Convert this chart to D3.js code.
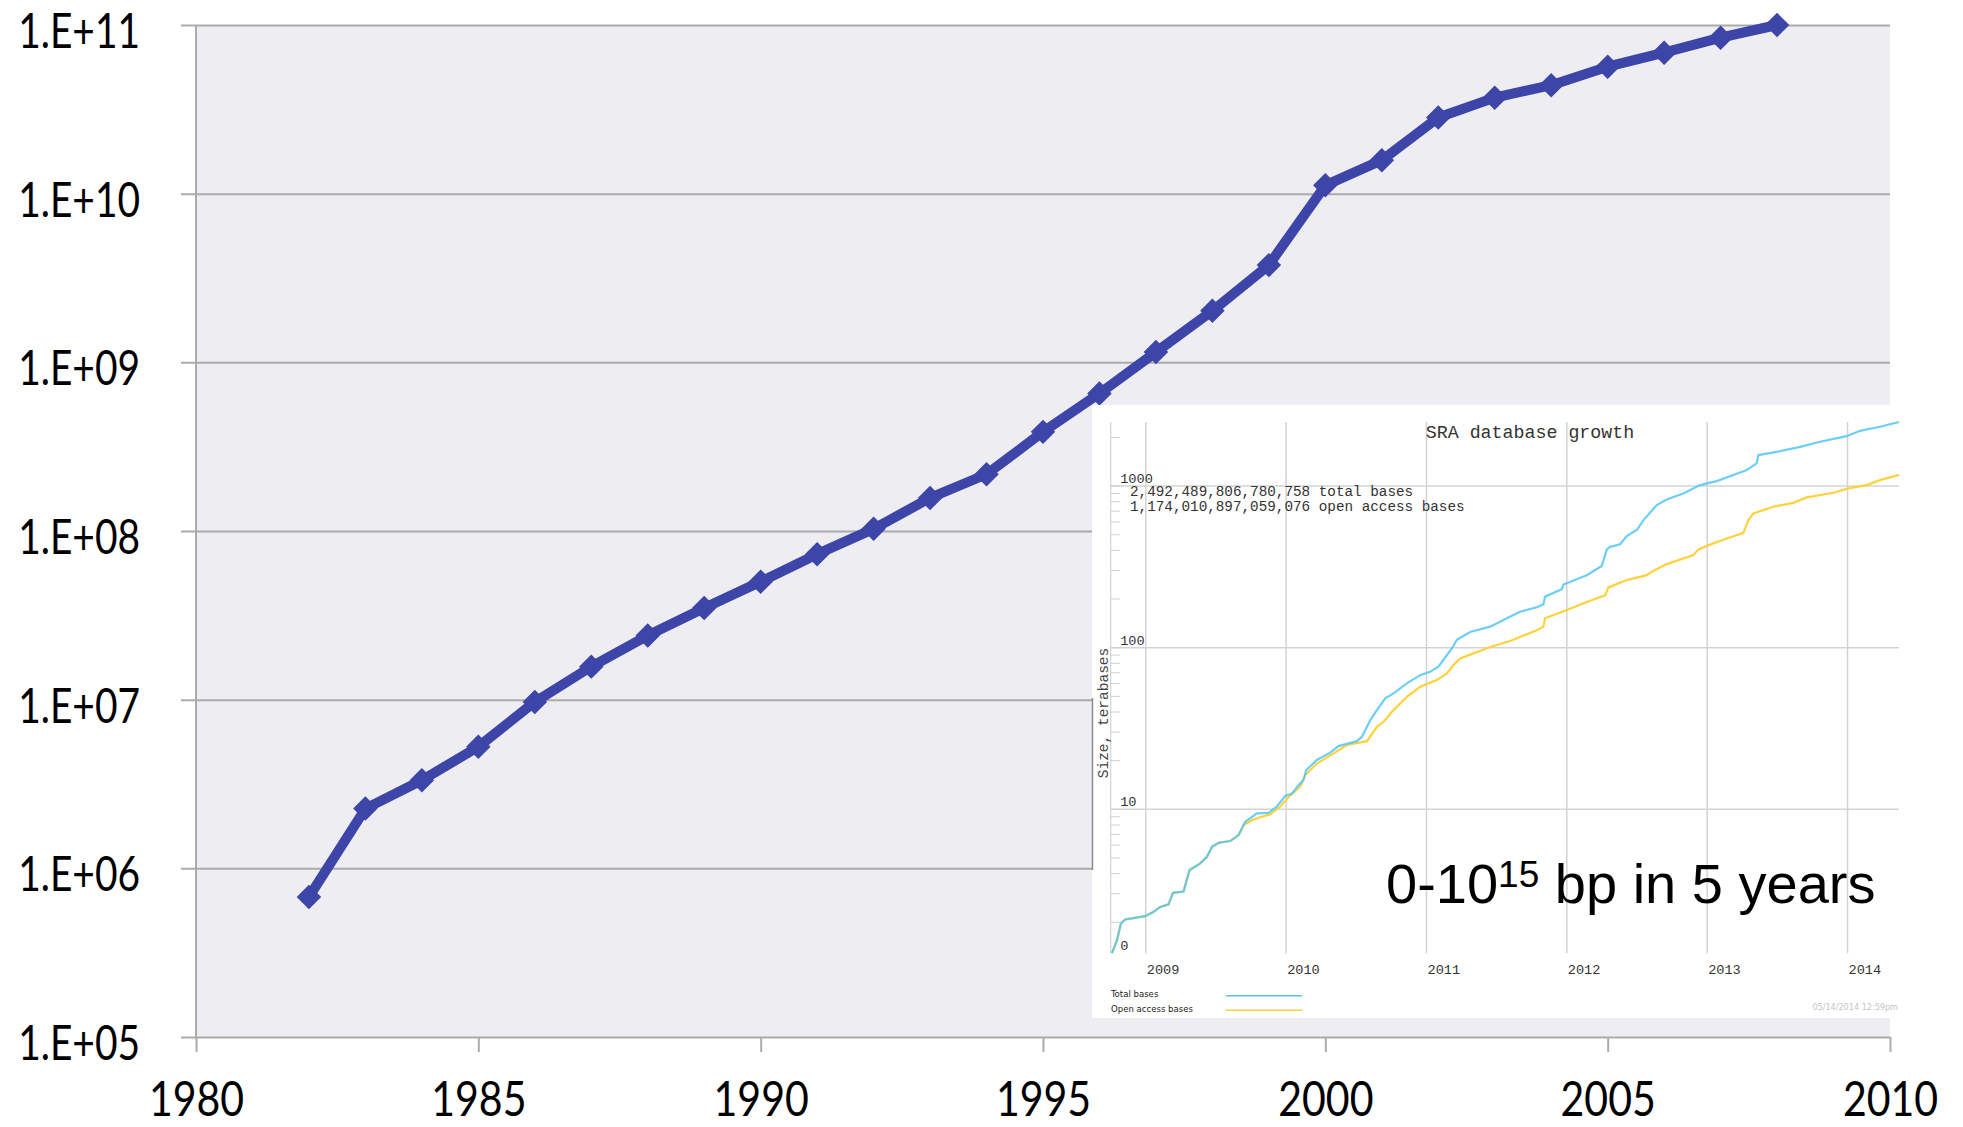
<!DOCTYPE html>
<html>
<head>
<meta charset="utf-8">
<script src="https://cdn.jsdelivr.net/npm/d3@7"></script>
<style>
  html, body { margin: 0; padding: 0; background: #ffffff; }
  svg { display: block; }
</style>
</head>
<body>
<svg id="chart" width="1963" height="1127"></svg>
<script>
// Main series: cumulative sequence size per year (log scale)
const mainYears = [1982, 1983, 1984, 1985, 1986, 1987, 1988, 1989, 1990, 1991, 1992, 1993, 1994,
  1995, 1996, 1997, 1998, 1999, 2000, 2001, 2002, 2003, 2004, 2005, 2006, 2007, 2008];
const mainValues = [6.76e5, 2.26e6, 3.33e6, 5.26e6, 9.7e6, 1.57e7, 2.40e7, 3.50e7, 5.01e7, 7.29e7,
  1.03e8, 1.57e8, 2.17e8, 3.87e8, 6.54e8, 1.15e9, 2.02e9, 3.77e9, 1.12e10, 1.58e10,
  2.83e10, 3.71e10, 4.40e10, 5.66e10, 6.85e10, 8.41e10, 1.00e11];

const yTickValues = [1e5, 1e6, 1e7, 1e8, 1e9, 1e10, 1e11];
const yTickLabels = ["1.E+05", "1.E+06", "1.E+07", "1.E+08", "1.E+09", "1.E+10", "1.E+11"];
const xTickValues = [1980, 1985, 1990, 1995, 2000, 2005, 2010];

// SRA database growth (terabases), dates as decimal years
const sraTotalDates = [2008.759, 2008.795, 2008.823, 2008.854, 2008.996, 2009.056, 2009.103, 2009.162,
  2009.194, 2009.269, 2009.312, 2009.388, 2009.436, 2009.472, 2009.519, 2009.602, 2009.661, 2009.709,
  2009.792, 2009.875, 2009.934, 2009.994, 2010.041, 2010.088, 2010.124, 2010.143, 2010.219, 2010.314,
  2010.373, 2010.504, 2010.540, 2010.599, 2010.647, 2010.706, 2010.765, 2010.860, 2010.955, 2011.026,
  2011.085, 2011.181, 2011.217, 2011.311, 2011.454, 2011.573, 2011.667, 2011.786, 2011.833, 2011.845,
  2011.964, 2011.976, 2012.142, 2012.249, 2012.285, 2012.309, 2012.380, 2012.427, 2012.499, 2012.546,
  2012.641, 2012.712, 2012.830, 2012.949, 2013.068, 2013.187, 2013.282, 2013.353, 2013.365, 2013.496,
  2013.662, 2013.804, 2013.994, 2014.089, 2014.231, 2014.367];
const sraTotalTB = [1.29, 1.55, 1.97, 2.08, 2.18, 2.32, 2.49, 2.58,
  3.04, 3.10, 4.21, 4.63, 5.08, 5.86, 6.21, 6.36, 6.92, 8.37,
  9.43, 9.51, 10.4, 12.1, 12.5, 14.1, 15.2, 17.5, 20.2, 22.4,
  24.6, 26.4, 28.1, 35.6, 41.1, 48.6, 52.1, 60.1, 67.6, 70.9,
  76.2, 99.1, 112, 125, 135, 152, 167, 178, 185, 207,
  230, 246, 281, 320, 406, 421, 437, 491, 535, 616,
  763, 827, 901, 1014, 1074, 1170, 1256, 1381, 1556, 1630,
  1750, 1880, 2037, 2198, 2328, 2492.49];

const sraOpenDates = [2008.759, 2008.795, 2008.823, 2008.854, 2008.996, 2009.056, 2009.103, 2009.162,
  2009.194, 2009.269, 2009.312, 2009.388, 2009.436, 2009.472, 2009.519, 2009.602, 2009.661, 2009.697,
  2009.768, 2009.887, 2009.958, 2010.029, 2010.100, 2010.136, 2010.219, 2010.338, 2010.433, 2010.576,
  2010.647, 2010.694, 2010.765, 2010.860, 2010.955, 2011.074, 2011.145, 2011.204, 2011.240, 2011.335,
  2011.454, 2011.596, 2011.786, 2011.833, 2011.845, 2012.000, 2012.142, 2012.273, 2012.296, 2012.427,
  2012.570, 2012.605, 2012.712, 2012.902, 2012.937, 2013.044, 2013.140, 2013.258, 2013.294, 2013.329,
  2013.472, 2013.614, 2013.709, 2013.899, 2014.006, 2014.137, 2014.231, 2014.367];
const sraOpenTB = [1.29, 1.55, 1.97, 2.08, 2.18, 2.32, 2.49, 2.58,
  3.04, 3.10, 4.21, 4.63, 5.08, 5.86, 6.21, 6.36, 6.92, 7.98,
  8.65, 9.33, 10.4, 12.2, 13.8, 16.3, 19.2, 22.2, 25.0, 26.4,
  32.4, 34.8, 41.1, 49.7, 57.3, 63.0, 69.3, 80.0, 85.9, 92.2,
  101, 110, 128, 135, 152, 171, 192, 211, 236, 262,
  281, 295, 329, 374, 406, 442, 474, 514, 616, 678,
  745, 788, 851, 910, 968, 1014, 1089, 1174.01];

const sraYearTicks = [2009, 2010, 2011, 2012, 2013, 2014];
const sraGridValues = [10, 100, 1000];
const sraLabelValues = [1.285, 10, 100, 1000];
const sraLabelTexts = ["0", "10", "100", "1000"];
const sraStats = ["2,492,489,806,780,758 total bases", "1,174,010,897,059,076 open access bases"];
const sraLegend = ["Total bases", "Open access bases"];

const svg = d3.select("#chart");

// ---------- main chart ----------
const plot = { left: 196, right: 1890, top: 25, bottom: 1037 };
const x = d3.scaleLinear().domain([1980, 2010]).range([plot.left, plot.right]);
const y = d3.scaleLog().domain([1e5, 1e11]).range([plot.bottom, plot.top]);

const gridColor = "#ababab";
const labelFont = "Lato, 'Open Sans', sans-serif";

svg.append("rect")
  .attr("x", plot.left).attr("y", plot.top)
  .attr("width", plot.right - plot.left).attr("height", plot.bottom - plot.top)
  .attr("fill", "#ededf2");

// horizontal gridlines with left tick stubs and labels
const yAxis = d3.axisLeft(y)
  .tickValues(yTickValues)
  .tickSize(-(plot.right - plot.left) - 15)
  .tickFormat((d, i) => yTickLabels[i]);

const gy = svg.append("g")
  .attr("transform", `translate(${plot.left - 15},0)`)
  .call(yAxis);
gy.select(".domain").remove();
gy.selectAll(".tick line")
  .attr("x1", 0).attr("x2", plot.right - plot.left + 15)
  .attr("stroke", gridColor).attr("stroke-width", 2);
// labels are set in a narrow, tall style
gy.selectAll(".tick text")
  .attr("x", 0).attr("dy", "0.47em")
  .attr("transform", "translate(-41,0) scale(0.81,1)")
  .attr("fill", "#000")
  .style("font-family", labelFont).style("font-size", "48px")
  .attr("text-anchor", "end");

// x axis: baseline, vertical axis line, ticks below
svg.append("line")
  .attr("x1", plot.left).attr("x2", plot.left)
  .attr("y1", plot.top).attr("y2", plot.bottom)
  .attr("stroke", gridColor).attr("stroke-width", 2);

const xAxis = d3.axisBottom(x)
  .tickValues(xTickValues)
  .tickSize(15)
  .tickFormat(d3.format("d"));
const gx = svg.append("g")
  .attr("transform", `translate(0,${plot.bottom})`)
  .call(xAxis);
gx.select(".domain").remove();
gx.selectAll(".tick line").attr("stroke", gridColor).attr("stroke-width", 2);
gx.selectAll(".tick text")
  .attr("y", 0).attr("dy", 0)
  .attr("transform", "translate(0,79) scale(0.855,1)")
  .attr("fill", "#000")
  .style("font-family", labelFont).style("font-size", "48px");

// series line and diamond markers
const mainData = mainYears.map((yr, i) => ({ yr, v: mainValues[i] }));
const seriesColor = "#3d45a8";

svg.append("path")
  .datum(mainData)
  .attr("fill", "none")
  .attr("stroke", seriesColor)
  .attr("stroke-width", 10)
  .attr("stroke-linejoin", "round")
  .attr("d", d3.line().x(d => x(d.yr)).y(d => y(d.v)));

const diamond = d3.symbol().type(d3.symbolSquare).size(300);
svg.append("g").selectAll("path")
  .data(mainData)
  .join("path")
  .attr("d", diamond)
  .attr("transform", d => `translate(${x(d.yr)},${y(d.v)}) rotate(45)`)
  .attr("fill", seriesColor);

// ---------- SRA growth inset ----------
const inset = { left: 1092, top: 405, right: 1900, bottom: 1018 };
const ip = { left: 1110.7, right: 1899, top: 422, bottom: 953.3 };

svg.append("rect")
  .attr("x", inset.left).attr("y", inset.top)
  .attr("width", inset.right - inset.left).attr("height", inset.bottom - inset.top)
  .attr("fill", "#ffffff");

svg.append("line")
  .attr("x1", inset.left + 0.5).attr("x2", inset.left + 0.5)
  .attr("y1", 698).attr("y2", 870)
  .attr("stroke", "#8a8a8a").attr("stroke-width", 1.5);

const ix = d3.scaleLinear().domain([2008.75, 2014.367]).range([ip.left, ip.right]);
const iy = d3.scaleLog().domain([1.285, 2492.49]).range([ip.bottom, ip.top]);

const monoFont = "'Liberation Mono', 'DejaVu Sans Mono', monospace";
const innerGrid = "#d3d3d3";

// vertical year gridlines and labels
svg.append("g").selectAll("line")
  .data(sraYearTicks).join("line")
  .attr("x1", d => ix(d)).attr("x2", d => ix(d))
  .attr("y1", ip.top).attr("y2", ip.bottom)
  .attr("stroke", innerGrid).attr("stroke-width", 1.5);
svg.append("g").selectAll("text")
  .data(sraYearTicks).join("text")
  .attr("x", d => ix(d) + 1).attr("y", 974)
  .attr("fill", "#333")
  .style("font-family", monoFont).style("font-size", "13.6px")
  .text(d => d);

// horizontal decade gridlines
svg.append("g").selectAll("line")
  .data(sraGridValues).join("line")
  .attr("x1", ip.left).attr("x2", ip.right)
  .attr("y1", d => iy(d)).attr("y2", d => iy(d))
  .attr("stroke", innerGrid).attr("stroke-width", 1.5);

// left axis with minor log ticks
svg.append("line")
  .attr("x1", ip.left).attr("x2", ip.left)
  .attr("y1", ip.top).attr("y2", ip.bottom)
  .attr("stroke", innerGrid).attr("stroke-width", 1.2);
const minorTicks = iy.ticks().filter(v => v >= iy.domain()[0] && v <= iy.domain()[1]);
svg.append("g").selectAll("line")
  .data(minorTicks).join("line")
  .attr("x1", ip.left).attr("x2", ip.left + 9)
  .attr("y1", d => iy(d)).attr("y2", d => iy(d))
  .attr("stroke", "#cfcfcf").attr("stroke-width", 1);

svg.append("g").selectAll("text")
  .data(sraLabelValues).join("text")
  .attr("x", ip.left + 9.5).attr("y", d => iy(d) - 3)
  .attr("fill", "#333")
  .style("font-family", monoFont).style("font-size", "13.6px")
  .text((d, i) => sraLabelTexts[i]);

// axis title
svg.append("text")
  .attr("transform", "translate(1103,713) rotate(-90)")
  .attr("text-anchor", "middle")
  .attr("dy", "0.35em")
  .attr("fill", "#444")
  .style("font-family", monoFont).style("font-size", "14.5px")
  .text("Size, terabases");

// title and totals
svg.append("text")
  .attr("x", 1530).attr("y", 438)
  .attr("text-anchor", "middle")
  .attr("fill", "#333")
  .style("font-family", monoFont).style("font-size", "18.3px")
  .text("SRA database growth");

svg.append("g").selectAll("text")
  .data(sraStats).join("text")
  .attr("x", 1130).attr("y", (d, i) => 495.5 + i * 15.5)
  .attr("fill", "#333")
  .style("font-family", monoFont).style("font-size", "14.3px")
  .text(d => d);

// series lines
const totalData = sraTotalDates.map((t, i) => ({ t, v: sraTotalTB[i] }));
const openData = sraOpenDates.map((t, i) => ({ t, v: sraOpenTB[i] }));
const sraLine = d3.line().x(d => ix(d.t)).y(d => iy(d.v));
const openColor = "#ffd23c";
const totalColor = "#52c5f4";

svg.append("path").datum(openData)
  .attr("fill", "none").attr("stroke", openColor).attr("stroke-width", 2.2)
  .attr("d", sraLine);
svg.append("path").datum(totalData)
  .attr("fill", "none").attr("stroke", totalColor).attr("stroke-width", 2.2)
  .attr("stroke-opacity", 0.85)
  .attr("d", sraLine);

// legend
const legendColors = [totalColor, openColor];
const leg = svg.append("g").selectAll("g")
  .data(sraLegend).join("g");
leg.append("text")
  .attr("x", 1111).attr("y", (d, i) => 997 + i * 14.5)
  .attr("fill", "#222")
  .style("font-family", "'DejaVu Sans Condensed', 'DejaVu Sans', sans-serif")
  .style("font-size", "9.5px")
  .text(d => d);
leg.append("line")
  .attr("x1", 1226).attr("x2", 1302)
  .attr("y1", (d, i) => 995.7 + i * 14.5).attr("y2", (d, i) => 995.7 + i * 14.5)
  .attr("stroke", (d, i) => legendColors[i]).attr("stroke-width", 1.6);

svg.append("text")
  .attr("x", 1898).attr("y", 1010)
  .attr("text-anchor", "end")
  .attr("fill", "#c4c4c4")
  .style("font-family", "'DejaVu Sans Condensed', 'DejaVu Sans', sans-serif")
  .style("font-size", "9px")
  .text("05/14/2014 12:59pm");

// headline annotation
const note = svg.append("text")
  .attr("x", 1386).attr("y", 902.7)
  .attr("fill", "#000")
  .style("font-family", "'Liberation Sans', Arial, sans-serif")
  .style("font-size", "56px");
note.append("tspan").text("0-10");
note.append("tspan").attr("dy", -16).style("font-size", "37px").text("15");
note.append("tspan").attr("dy", 16).text(" bp in 5 years");
</script>
</body>
</html>
